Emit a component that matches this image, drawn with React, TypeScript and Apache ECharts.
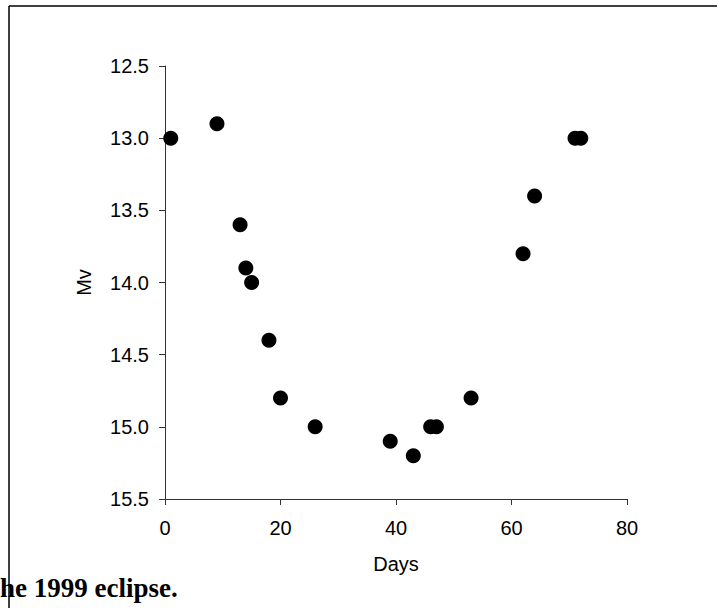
import React, { useEffect, useRef } from "react";
import * as echarts from "echarts";

const days = [1, 9, 13, 14, 15, 18, 20, 26, 39, 43, 46, 47, 53, 62, 64, 71, 72];
const mv = [13.0, 12.9, 13.6, 13.9, 14.0, 14.4, 14.8, 15.0, 15.1, 15.2, 15.0, 15.0, 14.8, 13.8, 13.4, 13.0, 13.0];
const xTitle = "Days";
const yTitle = "Mv";
const caption = "The 1999 eclipse.";

export default function App() {
  const ref = useRef<HTMLDivElement>(null);
  useEffect(() => {
    if (!ref.current) return;
    const chart = echarts.init(ref.current, undefined, { renderer: "svg" });
    const font = "Liberation Sans, Arial, sans-serif";
    chart.setOption({
      animation: false,
      backgroundColor: "#ffffff",
      grid: { left: 165, right: 90, top: 66, bottom: 109, containLabel: false },
      xAxis: {
        type: "value",
        min: 0,
        max: 80,
        interval: 20,
        name: xTitle,
        nameLocation: "middle",
        nameGap: 55,
        nameTextStyle: { color: "#000", fontSize: 20, fontFamily: font },
        axisLine: { show: true, onZero: false, lineStyle: { color: "#333", width: 1 } },
        axisTick: { show: true, inside: false, length: 6, lineStyle: { color: "#333" } },
        axisLabel: { color: "#000", fontSize: 20, fontFamily: font, margin: 19 },
        splitLine: { show: false },
      },
      yAxis: {
        type: "value",
        inverse: true,
        min: 12.5,
        max: 15.5,
        interval: 0.5,
        name: yTitle,
        nameLocation: "middle",
        nameGap: 71,
        nameRotate: 90,
        nameTextStyle: { color: "#000", fontSize: 20, fontFamily: font },
        axisLine: { show: true, onZero: false, lineStyle: { color: "#333", width: 1 } },
        axisTick: { show: true, inside: false, length: 6, lineStyle: { color: "#333" } },
        axisLabel: {
          color: "#000",
          fontSize: 20,
          fontFamily: font,
          margin: 16,
          formatter: (v: number) => v.toFixed(1),
        },
        splitLine: { show: false },
      },
      series: [
        {
          type: "scatter",
          data: days.map((d, i) => [d, mv[i]]),
          symbol: "circle",
          symbolSize: 15,
          itemStyle: { color: "#000", opacity: 1 },
        },
      ],
      graphic: [
        {
          type: "line",
          shape: { x1: 9, y1: 6, x2: 717, y2: 6 },
          style: { stroke: "#000", lineWidth: 1.5 },
          z: 10,
        },
        {
          type: "text",
          left: -18,
          top: 574,
          style: {
            text: caption,
            fill: "#000",
            font: "bold 27px 'Liberation Serif', 'Times New Roman', serif",
          },
          z: 5,
        },
        {
          type: "line",
          shape: { x1: 9, y1: 6, x2: 9, y2: 608 },
          style: { stroke: "#000", lineWidth: 1.5 },
          z: 10,
        },
      ],
    });
    return () => chart.dispose();
  }, []);
  return (
    <div
      ref={ref}
      style={{ position: "fixed", left: 0, top: 0, width: 717, height: 608 }}
    />
  );
}
